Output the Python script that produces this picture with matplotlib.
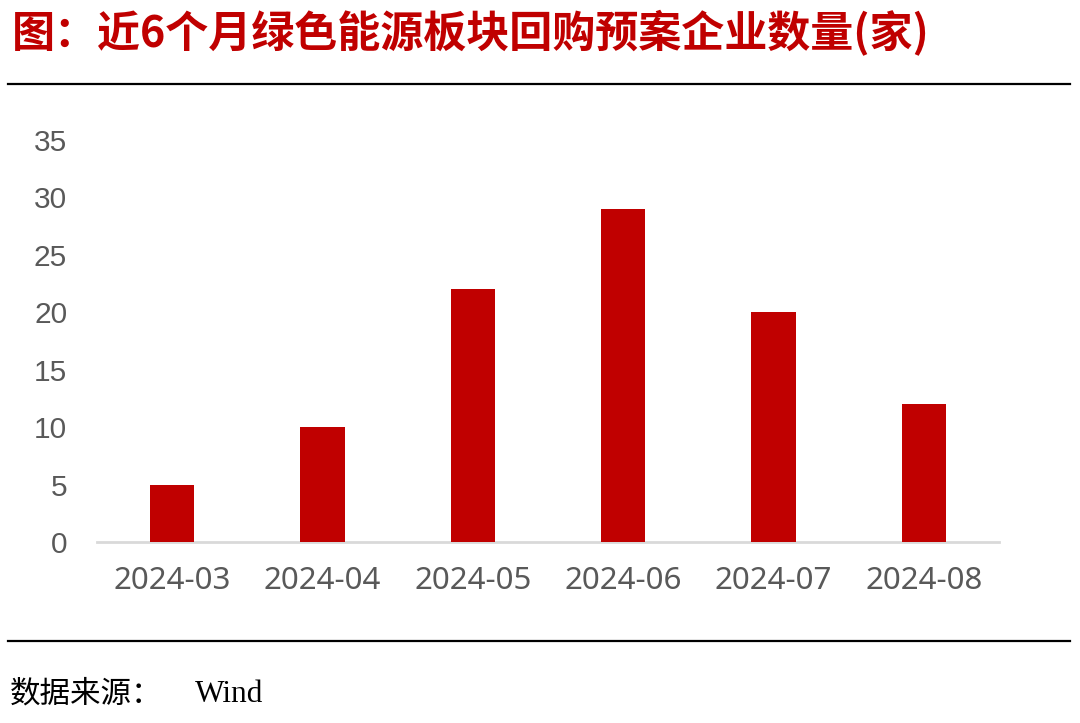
import matplotlib
matplotlib.use("Agg")
import matplotlib.pyplot as plt
from matplotlib.lines import Line2D

categories = ["2024-03", "2024-04", "2024-05", "2024-06", "2024-07", "2024-08"]
values = [5, 10, 22, 29, 20, 12]
yticks = [0, 5, 10, 15, 20, 25, 30, 35]

W, H = 1080, 723
fig = plt.figure(figsize=(W / 100, H / 100), dpi=100)
fig.patch.set_facecolor("white")

ax = fig.add_axes([97 / W, 1 - 542 / H, (999 - 97) / W, (542 - 140) / H])
x = list(range(len(categories)))
ax.bar(x, values, width=0.293, color="#C00000", zorder=3)
ax.set_xlim(-0.5, len(categories) - 0.5)
ax.set_ylim(0, 35)
ax.set_yticks(yticks)
ax.set_yticklabels([str(v) for v in yticks], fontsize=21.5, color="#595959",
                   family=["Liberation Sans", "DejaVu Sans"])
ax.set_xticks(x)
ax.set_xticklabels(categories, fontsize=22.5, color="#595959",
                   family=["Noto Sans", "DejaVu Sans"])
for s in ["top", "right", "left"]:
    ax.spines[s].set_visible(False)
ax.spines["bottom"].set_color("#D9D9D9")
ax.spines["bottom"].set_linewidth(2)
ax.tick_params(axis="both", length=0)
ax.tick_params(axis="y", pad=21.5)
ax.tick_params(axis="x", pad=17)

# title
fig.text(12 / W, 1 - 33 / H, "图：近6个月绿色能源板块回购预案企业数量(家)",
         fontsize=31, color="#C00000", fontweight="bold",
         family=["Noto Sans CJK SC", "DejaVu Sans"], va="center", ha="left")

# horizontal rules
fig.add_artist(Line2D([8 / W, 1070 / W], [1 - 84 / H, 1 - 84 / H],
                      color="black", linewidth=1.6, transform=fig.transFigure))
fig.add_artist(Line2D([8 / W, 1070 / W], [1 - 641 / H, 1 - 641 / H],
                      color="black", linewidth=1.6, transform=fig.transFigure))

# footer
fig.text(10 / W, 1 - 694 / H, "数据来源：", fontsize=22, color="black",
         family=["Noto Sans CJK SC", "DejaVu Sans"], va="center", ha="left")
fig.text(195 / W, 1 - 694 / H, "Wind", fontsize=22.5, color="black",
         family=["Liberation Serif", "DejaVu Serif"], va="center", ha="left")

fig.savefig("out.png", dpi=100, facecolor="white")
